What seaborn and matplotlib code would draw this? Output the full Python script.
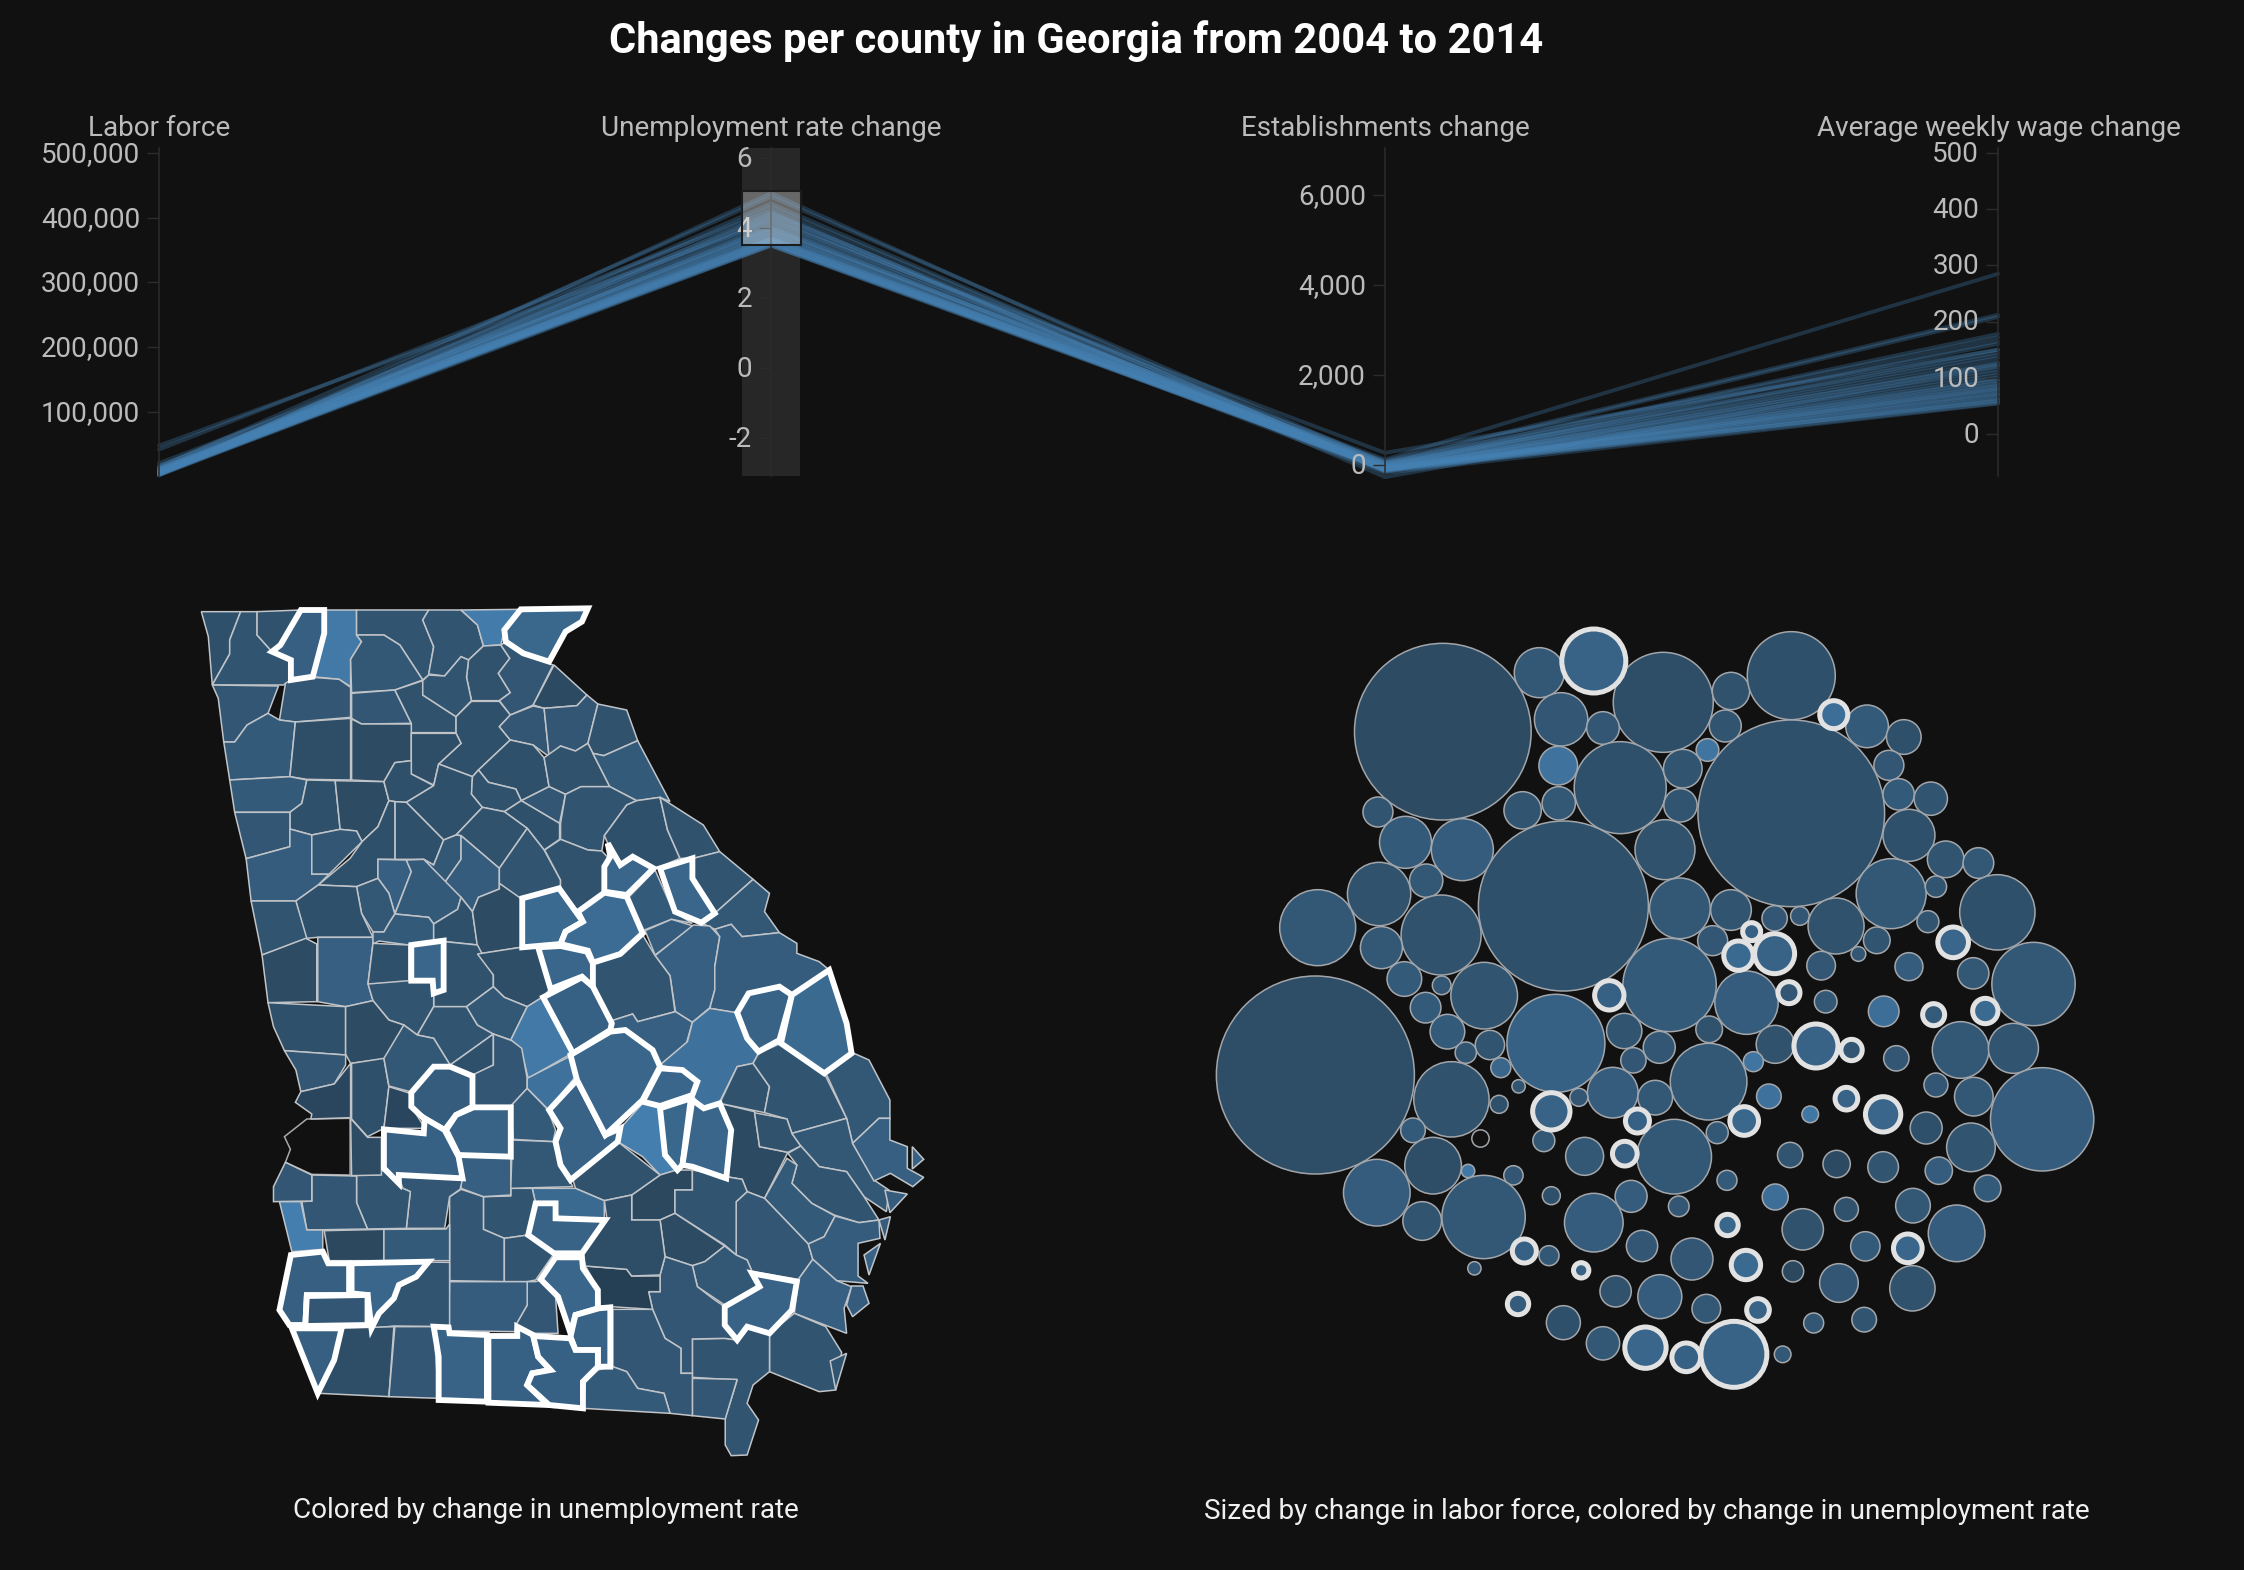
import numpy as np
import pandas as pd
import matplotlib.pyplot as plt
import matplotlib.transforms as mtransforms
import seaborn as sns

W, H = 2244, 1570
BG = '#111111'

# parallel coordinates: the counties picked by the brush on the rate axis
sel_labor = [48000, 42000, 21000, 17000, 16000, 14500, 13500, 13000, 12000, 11500,
             11000, 10500, 10000, 9500, 9000, 8800, 8500, 8000, 7600, 7200,
             7000, 6700, 6400, 6000, 5800, 5500, 5200, 5000, 4700, 4400,
             4200, 4000, 3700, 3400, 3100, 2900, 2500, 2000]
sel_rate = [4.2, 4.5, 3.9, 3.6, 4.4, 4.9, 3.7, 4.0, 3.5, 3.8,
            4.1, 3.7, 3.55, 4.3, 3.65, 3.95, 4.0, 4.25, 3.75, 3.55,
            4.6, 3.6, 4.15, 3.8, 3.5, 4.7, 3.7, 4.35, 3.55, 3.9,
            3.65, 4.05, 3.6, 4.45, 3.5, 3.85, 5.0, 3.7]
sel_estab = [270, -270, 120, 90, 60, 40, 55, -20, 30, -10,
             25, 10, -40, 0, -35, -30, -50, -60, -70, -45,
             -55, -80, -65, -90, -75, -85, -95, -110, -100, -60,
             -120, -130, -105, -140, -90, -150, -115, -175]
sel_wage = [150, 120, 285, 212, 208, 178, 172, 165, 160, 150,
            145, 140, 135, 128, 122, 115, 110, 105, 100, 96,
            90, 85, 80, 78, 75, 72, 68, 64, 60, 58,
            55, 95, 88, 70, 125, 62, 82, 54]

dim_names = ['Labor force', 'Unemployment rate change', 'Establishments change', 'Average weekly wage change']
dim_ranges = [(1160, 507700), (-3.09, 6.29), (-244, 7044), (-75, 509)]
dim_ticks = [[100000, 200000, 300000, 400000, 500000], [-2, 0, 2, 4, 6],
             [0, 2000, 4000, 6000], [0, 100, 200, 300, 400, 500]]
brush = (3.51, 5.06)

# bubbles, upper part
bub_n_x = [423, 591, 807, 925, 1030, 629, 702, 915, 1162, 1226,
           884, 624, 732, 841, 1030, 1200, 562, 625, 837, 1217,
           1273, 310, 358, 457, 633, 810, 1235, 1299, 1356, 312,
           394, 1204, 1282, 1389, 205, 420, 836, 925, 1001, 1045,
           1108, 1268, 316, 893, 1179, 1147, 1082, 1235, 1452, 1347,
           356, 421, 495, 818, 952, 1090, 1191, 393]
bub_n_y = [365, 188, 277, 243, 197, 328, 354, 348, 349, 381,
           420, 467, 533, 476, 610, 466, 601, 580, 586, 553,
           566, 606, 697, 719, 888, 719, 676, 748, 759, 852,
           812, 851, 830, 907, 953, 975, 895, 900, 925, 918,
           948, 935, 1013, 992, 991, 1032, 1067, 1070, 1122, 1090,
           1107, 1126, 1157, 1125, 1178, 1175, 1204, 1193]
bub_n_r = [265, 75, 150, 56, 132, 80, 49, 48, 64, 52,
           34, 58, 138, 58, 280, 45, 56, 50, 50, 47,
           50, 45, 78, 93, 255, 90, 78, 55, 46, 95,
           50, 105, 32, 113, 114, 120, 91, 61, 38, 28,
           84, 33, 63, 45, 40, 22, 43, 42, 125, 47,
           52, 28, 100, 140, 95, 34, 46, 46]
bub_n_rate = [2.5, 3.1, 2.6, 2.8, 2.7, 3.0, 3.0, 2.9, 3.2, 2.7,
              4.4, 4.3, 2.7, 2.9, 2.7, 3.0, 2.9, 3.1, 2.9, 3.2,
              2.9, 2.9, 3.2, 3.3, 2.7, 2.8, 2.7, 2.9, 3.1, 2.8,
              3.1, 3.1, 2.9, 2.7, 3.1, 2.8, 3.1, 2.9, 3.0, 3.0,
              2.8, 2.9, 3.1, 3.0, 2.9, 3.0, 3.0, 3.3, 3.1, 3.1,
              3.2, 3.0, 2.9, 3.2, 3.3, 3.1, 4.1, 3.2]
# ringed ones, upper part
ring_n_x = [686, 1104, 1312, 961, 938, 1001, 713, 1026, 1278, 1368]
ring_n_y = [153, 314, 997, 965, 1037, 1031, 1156, 1148, 1214, 1203]
ring_n_r = [96, 42, 46, 27, 44, 60, 44, 33, 33, 38]
ring_n_rate = [3.6, 4.1, 3.7, 3.5, 3.9, 3.6, 3.5, 3.0, 3.2, 3.9]

# bubbles, lower part
bub_s_x = [201, 431, 505, 463, 620, 739, 800, 887, 1002, 1213,
           1325, 1417, 524, 755, 964, 886, 438, 555, 719, 793,
           991, 1282, 1348, 1467, 521, 660, 1063, 1265, 1343, 371,
           599, 901, 826, 670, 1028, 1109, 1190, 1287, 406, 308,
           467, 546, 918, 1372, 612, 751, 1002, 1242, 834, 1126,
           387, 494, 686, 1318, 1050, 770, 1159, 608, 857, 478,
           1033, 1113, 1241, 724, 801, 882, 633, 1069, 1157, 702,
           1015]
bub_s_y = [225, 95, 135, 158, 130, 93, 142, 88, 133, 175,
           150, 145, 203, 181, 185, 245, 298, 259, 278, 293,
           289, 255, 290, 358, 313, 292, 343, 384, 442, 391,
           422, 398, 470, 469, 465, 492, 501, 512, 497, 578,
           513, 526, 541, 565, 587, 589, 591, 617, 619, 628,
           663, 651, 668, 700, 688, 738, 739, 767, 777, 805,
           814, 849, 865, 874, 890, 926, 968, 969, 959, 1030,
           1063]
bub_s_r = [297, 52, 44, 32, 147, 53, 48, 40, 57, 38,
           85, 75, 30, 38, 30, 115, 113, 20, 76, 52,
           37, 36, 58, 155, 27, 27, 25, 48, 73, 37,
           33, 33, 112, 57, 38, 41, 46, 41, 85, 100,
           20, 29, 30, 40, 27, 48, 39, 52, 31, 36,
           58, 125, 88, 85, 62, 47, 44, 30, 63, 20,
           32, 58, 68, 47, 66, 43, 51, 30, 37, 50,
           25]
bub_s_rate = [2.6, 3.2, 2.9, 2.9, 3.5, 2.9, 3.0, 2.8, 2.8, 3.0,
              3.1, 2.9, 3.7, 3.0, 4.4, 3.1, 2.8, 2.9, 3.3, 3.1,
              4.2, 3.0, 3.1, 3.3, 2.7, 3.0, 4.5, 2.7, 2.9, 3.2,
              3.1, 3.1, 3.1, 3.1, 2.9, 2.4, 2.9, 3.3, 2.6, 3.3,
              4.5, 3.0, 3.2, 3.2, 2.7, 3.3, 4.1, 3.1, 3.0, 2.8,
              2.9, 3.1, 3.3, 3.3, 2.8, 3.0, 3.2, 3.1, 3.0, 3.0,
              2.2, 3.0, 2.8, 2.8, 3.3, 3.1, 2.7, 3.0, 2.9, 3.1,
              3.1]
ring_s_x = [1073, 1135, 612, 762, 948, 1126, 1190, 740, 919, 1233,
            565, 951, 664, 972, 554, 776, 847, 930]
ring_s_y = [138, 150, 334, 363, 363, 296, 343, 461, 675, 745,
            753, 795, 811, 930, 912, 1043, 1072, 1063]
ring_s_r = [66, 32, 56, 36, 43, 34, 53, 37, 32, 43,
            36, 44, 23, 34, 32, 62, 43, 99]
ring_s_rate = [3.6, 3.0, 3.6, 3.5, 3.8, 3.6, 3.7, 3.4, 3.8, 3.7,
               3.5, 3.9, 3.6, 3.6, 3.3, 3.7, 3.5, 3.6]
# one county without a rate
empty_x = [487]
empty_y = [415]
empty_r = [26]

# county outlines, upper half of the state
map_n_plain = [
    [(63,65),(142,65),(120,150),(120,192),(85,285),(77,140)],
    [(142,65),(175,65),(175,135),(205,185),(243,210),(243,270),(228,285),(85,285),(120,192),(120,150)],
    [(175,65),(263,60),(222,165),(205,185),(175,135)],
    [(310,60),(375,60),(375,135),(385,155),(363,208),(363,290),(340,268),(287,260),(310,130)],
    [(375,60),(520,60),(508,90),(530,170),(520,255),(508,270),(462,165),(430,135),(375,135)],

    [(375,135),(430,135),(462,165),(508,270),(452,300),(365,308),(363,208),(385,155)],
    [(520,60),(585,60),(618,105),(630,168),(600,210),(585,200),(552,258),(520,252),(530,170),(508,90)],
    [(585,60),(705,58),(672,120),(665,165),(630,168),(618,105)],
    [(630,168),(665,165),(683,205),(660,250),(684,308),(662,332),(606,332),(596,262),(600,210)],
    [(665,165),(675,155),(710,190),(770,225),(730,345),(684,375),(662,332),(684,308),(660,250),(683,205)],

    [(772,225),(838,315),(818,347),(752,355),(730,345)],
    [(85,285),(218,288),(197,370),(155,405),(130,456),(108,456),(97,325)],
    [(232,280),(243,270),(287,262),(340,268),(363,292),(363,382),(252,396),(220,390)],
    [(365,310),(452,300),(485,400),(385,402),(365,385)],
    [(452,300),(508,272),(508,315),(575,380),(575,428),(485,428),(485,400)],

    [(520,255),(552,258),(585,200),(600,210),(596,262),(606,332),(575,380),(508,315),(508,272)],
    [(606,334),(662,334),(684,375),(662,410),(684,450),(620,540),(608,560),(540,522),(585,460),(575,430),(575,380)],
    [(684,375),(730,348),(752,355),(762,500),(730,465),(684,450),(662,410)],
    [(752,355),(818,347),(838,315),(860,342),(840,460),(815,483),(785,468),(762,500)],
    [(860,342),(918,360),(940,452),(872,497),(850,490),(840,460)],

    [(108,456),(130,456),(155,405),(197,370),(220,390),(252,396),(241,560),(120,570)],
    [(252,396),(363,385),(363,570),(275,568),(241,560)],
    [(365,387),(385,402),(485,402),(485,512),(452,518),(430,575),(365,570)],
    [(485,430),(575,430),(585,460),(540,522),(530,585),(485,552)],
    [(620,540),(684,450),(730,465),(752,503),(762,590),(706,632),(695,597),(640,577)],

    [(752,503),(785,468),(815,483),(840,460),(850,490),(884,590),(826,590),(795,613),(762,590)],
    [(850,490),(872,497),(940,452),(1005,635),(985,622),(938,632),(884,590)],
    [(120,570),(241,560),(275,570),(265,640),(241,667),(130,667)],
    [(275,570),(332,572),(342,718),(285,735),(241,717),(241,667),(265,640)],
    [(332,572),(430,575),(440,632),(418,710),(386,755),(375,723),(342,718)],

    [(430,575),(452,518),(485,512),(485,552),(530,587),(475,637),(452,635),(440,632)],
    [(540,522),(608,560),(606,612),(628,652),(575,735),(550,750),(475,637),(530,587)],
    [(620,540),(640,577),(695,597),(706,632),(672,665),(628,652),(606,612),(608,560)],
    [(762,590),(795,613),(783,700),(706,632)],
    [(795,613),(826,590),(884,590),(938,632),(918,645),(873,737),(868,783),(840,780),(785,748),(785,700)],

    [(938,632),(985,622),(1000,720),(1025,805),(985,830),(970,838),(930,800),(905,825),(880,760),(873,737),(918,645)],
    [(985,622),(1072,705),(1105,785),(1052,805),(1025,805),(1000,720)],
    [(706,632),(783,700),(783,748),(752,780),(718,715),(672,665)],
    [(628,652),(672,665),(718,715),(662,835),(585,737),(575,735)],
    [(130,667),(241,667),(241,770),(153,806)],

    [(452,635),(475,637),(550,750),(530,825),(510,808),(452,808)],
    [(153,806),(241,770),(241,717),(285,735),(285,852),(320,852),(298,885),(253,933),(163,933)],
    [(285,735),(342,718),(375,723),(386,755),(320,852),(285,852)],
    [(386,755),(418,710),(440,632),(452,635),(452,808),(418,808),(418,865),(375,890),(298,885),(362,805)],
    [(550,750),(575,735),(585,737),(585,808),(552,878),(510,808),(530,825)],

    [(585,737),(662,835),(662,897),(620,922),(608,965),(585,922),(552,878),(585,808)],
    [(718,715),(752,780),(785,870),(785,893),(705,925),(700,923),(662,880),(662,835)],
    [(753,780),(785,748),(840,780),(868,783),(885,810),(872,905),(820,965),(785,893),(785,870)],
    [(1052,805),(1105,785),(1172,868),(1095,970),(1050,865)],
    [(418,808),(475,810),(485,845),(452,972),(440,910),(418,865)],

    [(475,810),(510,808),(585,922),(578,958),(530,1002),(520,982),(452,972),(485,845)],
    [(375,890),(418,865),(440,910),(452,972),(440,1000),(430,1026),(408,1026),(385,970)],
    [(298,885),(375,890),(385,970),(408,1042),(297,1042),(273,1045),(253,933)],
    [(163,933),(253,933),(275,1045),(185,1095)],
    [(185,1095),(273,1045),(295,1062),(295,1235),(197,1238)],

    [(297,1042),(408,1042),(408,1060),(398,1180),(408,1232),(353,1250),(297,1235)],
    [(408,1026),(430,1026),(440,1000),(452,972),(520,982),(530,1002),(530,1060),(480,1065),(420,1053),(408,1062)],
    [(530,1002),(578,958),(585,922),(608,965),(618,1065),(555,1055),(530,1052)],
    [(608,965),(620,922),(662,897),(662,880),(705,925),(705,1072),(620,1092)],
    [(920,925),(975,840),(1012,965),(1050,1000),(1008,988),(950,1022)],

    [(1068,998),(1095,970),(1172,868),(1205,910),(1195,965),(1225,1028),(1150,1040),(1128,1003),(1095,1018)],
    [(955,1022),(1008,988),(1052,1008),(975,1095)],
    [(975,1097),(1052,1005),(1085,1008),(1105,1040),(1095,1130),(1095,1200),(1085,1253),(1050,1297),(1016,1265),(1005,1157)],
    [(1095,1018),(1128,1003),(1150,1040),(1225,1028),(1260,1060),(1260,1090),(1305,1115),(1325,1140),(1250,1215),(1225,1185),(1163,1210),(1138,1268),(1085,1255),(1095,1200),(1095,1130),(1105,1040)],
    [(408,1060),(480,1065),(480,1178),(398,1182)],

    [(552,1055),(618,1065),(650,1155),(650,1190),(596,1250),(530,1250),(530,1208),(552,1200)],
    [(618,1092),(705,1072),(740,1072),(765,1195),(750,1220),(718,1250),(672,1222),(650,1190),(650,1155)],
    [(850,1120),(905,1095),(950,1035),(975,1097),(1005,1157),(1015,1265),(940,1295),(930,1272),(888,1292),(850,1190)],
    [(398,1182),(480,1172),(530,1178),(530,1250),(497,1335),(470,1305),(440,1290),(408,1232)],
    [(530,1250),(596,1250),(618,1305),(650,1332),(563,1425),(530,1345),(497,1335)],

    [(596,1250),(650,1190),(672,1222),(718,1250),(685,1350),(650,1332),(618,1305)],
    [(718,1250),(748,1222),(808,1390),(720,1465),(705,1375),(685,1350)],
    [(888,1292),(930,1272),(940,1295),(1016,1265),(1050,1297),(1038,1360),(985,1425),(972,1380),(918,1320),(885,1320)],
    [(985,1425),(1040,1355),(1050,1297),(1085,1255),(1138,1268),(1160,1345),(1183,1390),(1172,1420),(1140,1430),(1105,1535),(1070,1555),(1050,1515),(1060,1475),(1030,1440)],
]
map_n_plain_rate = [2.7, 2.9, 2.8, 4.6, 2.9,
                    3.1, 2.9, 4.7, 2.8, 3.0,
                    2.4, 3.0, 3.0, 3.0, 2.8,
                    2.9, 2.7, 3.0, 3.0, 2.8,
                    3.2, 2.6, 2.5, 2.6, 2.7,
                    2.8, 3.2, 3.2, 2.7, 2.5,
                    2.7, 2.7, 2.8, 3.0, 2.9,
                    2.7, 2.8, 2.7, 2.8, 3.0,
                    2.7, 3.3, 3.0, 2.7, 3.1,
                    3.3, 2.9, 2.8, 2.9, 3.4,
                    3.2, 3.1, 2.7, 2.9, 2.5,
                    3.4, 3.2, 2.7, 2.5, 3.2,
                    3.1, 3.3, 3.4, 3.3, 2.7,
                    2.8, 2.6, 2.9, 2.9, 2.9,
                    3.1, 4.6, 3.4, 4.2]
map_n_sel = [
    [(263,60),(310,60),(310,130),(287,260),(243,270),(243,210),(205,185),(222,165)],
    [(705,58),(840,55),(828,95),(795,125),(762,215),(710,190),(675,155),(672,120)],
    [(880,760),(905,825),(930,800),(972,835),(918,915),(873,905),(873,830),(885,800)],
    [(985,835),(1050,805),(1050,865),(1095,970),(1068,998),(1015,965)],
    [(708,925),(782,895),(830,995),(795,1025),(785,1062),(708,1072)],
    [(785,1062),(795,1025),(830,995),(820,965),(873,908),(918,920),(950,1030),(905,1092),(850,1118),(840,1082)],
    [(485,1065),(550,1052),(550,1200),(530,1210),(528,1172),(485,1172)],
    [(740,1072),(785,1068),(838,1085),(850,1120),(850,1190),(828,1160),(765,1197)],
    [(750,1222),(828,1162),(850,1190),(888,1300),(885,1320),(810,1390)],
    [(1163,1210),(1225,1190),(1250,1215),(1225,1350),(1183,1385),(1160,1345),(1140,1268)],
    [(1250,1215),(1325,1140),(1360,1300),(1370,1390),(1315,1450),(1228,1360)],
]
map_n_sel_rate = [3.4, 3.8, 3.7, 3.7, 3.9, 4.0, 3.7, 3.7, 3.5, 3.6, 3.9]

# county outlines, lower half of the state
map_s_plain = [
    [(197,-52),(353,-40),(353,105),(230,92),(208,20)],
    [(353,-40),(408,-58),(440,0),(470,15),(440,115),(363,130),(353,103)],
    [(230,92),(353,105),(353,135),(330,192),(263,215),(253,150)],
    [(263,215),(330,192),(363,130),(363,293),(283,297),(285,282),(252,247)],
    [(365,130),(430,115),(440,200),(430,325),(397,350),(365,297)],

    [(470,15),(497,45),(530,55),(563,135),(530,140),(490,218),(440,198),(430,115)],
    [(650,42),(650,135),(610,165),(563,135)],
    [(650,42),(687,62),(707,85),(718,175),(718,205),(685,258),(608,258),(608,165),(650,135)],
    [(440,200),(487,222),(485,260),(513,325),(430,325)],
    [(685,258),(718,205),(760,270),(775,330),(770,365),(690,358)],

    [(718,175),(805,108),(815,170),(760,268),(718,205)],
    [(905,325),(950,250),(985,265),(995,405),(1020,450),(985,465),(950,410),(900,365)],
    [(1105,250),(1175,275),(1185,380),(1242,397),(1195,535),(1160,515),(1150,478),(1118,470),(1128,330)],
    [(1105,250),(1140,140),(1172,130),(1205,200),(1195,278)],
    [(1172,130),(1183,100),(1228,70),(1315,160),(1360,295),(1250,340),(1240,297),(1195,278),(1205,200)],

    [(1228,70),(1315,155),(1375,100),(1405,120),(1447,240),(1447,295),(1425,295),(1372,370),(1360,295),(1320,165)],
    [(1175,278),(1240,297),(1250,340),(1268,378),(1242,397),(1185,380)],
    [(1250,340),(1360,295),(1372,370),(1415,480),(1445,510),(1440,575),(1395,530),(1360,455),(1305,440),(1268,378)],
    [(1372,370),(1425,295),(1447,295),(1447,360),(1482,380),(1482,445),(1515,472),(1493,500),(1448,460),(1415,483)],
    [(1492,380),(1515,418),(1492,447)],

    [(1242,400),(1268,378),(1305,440),(1360,455),(1395,530),(1425,600),(1385,608),(1335,585),(1290,550),(1250,490),(1260,435)],
    [(1240,415),(1260,435),(1250,490),(1290,550),(1337,588),(1315,650),(1283,672),(1195,535)],
    [(1138,545),(1160,515),(1195,535),(1283,672),(1292,718),(1263,778),(1170,755),(1160,720),(1138,705)],
    [(1337,588),(1385,608),(1425,600),(1427,655),(1383,670),(1383,768),(1403,790),(1340,782),(1292,718),(1283,672),(1315,650)],
    [(1425,600),(1448,590),(1437,660)],

    [(1395,705),(1428,670),(1405,765)],
    [(1437,510),(1482,522),(1447,578)],
    [(1292,718),(1340,782),(1370,800),(1355,865),(1360,940),(1255,880),(1263,778)],
    [(1370,798),(1393,798),(1405,850),(1372,890),(1360,855)],
    [(1255,880),(1318,920),(1350,997),(1338,1110),(1305,1115),(1205,1055),(1205,940)],

    [(1327,1023),(1360,1000),(1338,1110)],
    [(1050,957),(1115,955),(1140,960),(1160,920),(1205,940),(1205,1055),(1172,1095),(1160,1150),(1183,1200),(1160,1305),(1128,1307),(1116,1275),(1116,1195),(1140,1080),(1050,1072)],
    [(1050,1075),(1140,1078),(1116,1197),(1050,1187)],
    [(1018,450),(1050,450),(1050,510),(1015,510),(1015,580),(985,600),(928,600),(928,525),(985,465)],
    [(810,480),(900,365),(985,465),(928,525),(873,542),(815,505)],

    [(1050,450),(1118,470),(1150,478),(1160,515),(1138,545),(1138,705),(1115,675),(1015,580),(1015,510),(1050,510)],
    [(985,600),(1015,580),(1115,678),(1075,725),(1050,737),(995,710)],
    [(1115,678),(1138,705),(1160,720),(1170,755),(1185,800),(1115,855),(1060,800),(1050,737),(1075,725)],
    [(995,710),(1050,737),(1060,800),(1095,840),(1115,860),(1115,915),(1140,960),(1115,955),(1050,957),(1050,1060),(1027,1060),(1027,985),(995,955),(970,868),(962,815),(985,815),(985,765)],
    [(890,868),(970,868),(995,955),(1027,985),(1027,1060),(1050,1060),(1050,1187),(1005,1180),(993,1120),(940,1105),(918,1055),(890,1040)],

    [(835,1085),(860,1050),(890,1040),(918,1055),(940,1105),(993,1120),(1005,1180),(830,1165)],
    [(835,738),(918,748),(928,768),(985,768),(985,815),(962,815),(970,868),(865,858),(862,810)],
    [(873,542),(928,525),(928,600),(985,600),(995,710),(985,765),(928,768),(918,748),(835,738),(830,700),(878,595)],
    [(728,505),(815,505),(873,542),(873,595),(780,590),(775,548),(735,550)],
    [(630,530),(685,528),(685,505),(728,505),(735,550),(720,645),(672,655),(630,628)],

    [(562,530),(585,508),(630,530),(630,628),(672,655),(672,785),(562,782)],
    [(672,655),(720,645),(770,705),(735,780),(718,785),(672,785)],
    [(735,785),(745,780),(775,830),(780,940),(728,940),(695,915),(718,855),(718,785)],
    [(562,785),(718,785),(718,855),(695,915),(693,935),(560,932)],
    [(585,410),(685,415),(685,525),(630,530),(585,505)],

    [(688,360),(770,365),(785,435),(810,500),(685,505)],
    [(460,470),(588,478),(583,508),(562,530),(552,625),(475,625),(483,515),(468,505)],
    [(375,465),(420,465),(430,445),(468,505),(483,515),(475,625),(397,627),(375,548)],
    [(285,465),(375,468),(375,548),(397,627),(275,630),(265,545),(285,543)],
    [(363,295),(397,352),(425,352),(425,465),(365,467)],

    [(232,427),(285,465),(285,543),(208,545),(208,500)],
    [(220,545),(263,545),(275,630),(307,630),(307,688),(245,695)],
    [(310,632),(430,628),(430,722),(320,722)],
    [(430,628),(555,627),(562,612),(562,722),(430,722)],
    [(430,725),(562,727),(562,920),(450,918),(405,925),(420,880),(450,835),(460,795),(495,770),(520,727)],

    [(345,925),(450,920),(440,1130),(300,1120),(330,1020)],
    [(452,920),(530,920),(540,1135),(440,1130)],
]
map_s_plain_rate = [2.7, 2.5, 3.0, 2.1, 2.7,
                    3.1, 2.7, 3.0, 2.1, 3.2,
                    4.2, 4.8, 2.4, 2.8, 2.9,
                    3.1, 2.8, 3.1, 3.4, 3.5,
                    2.9, 3.2, 3.0, 3.3, 3.3,
                    3.6, 3.3, 3.4, 3.3, 2.9,
                    2.9, 2.9, 3.0, 2.2, 2.8,
                    2.9, 2.5, 3.1, 3.0, 3.0,
                    3.2, 1.4, 2.6, 3.9, 2.9,
                    3.0, 2.9, 3.0, 3.3, 3.4,
                    3.1, 3.0, 2.9, 3.0, 2.5,
                    3.0, 4.8, 2.2, 3.2, 2.9,
                    2.6, 3.0]
map_s_sel = [
    [(530,140),(563,140),(608,168),(608,260),(575,285),(552,330),(510,295),(485,260),(485,218)],
    [(430,328),(510,340),(512,295),(552,330),(580,410),(588,475),(460,465),(460,490),(430,445)],
    [(610,262),(685,262),(685,410),(580,405),(555,330),(575,285)],
    [(818,180),(875,345),(905,325),(900,365),(805,480),(785,435),(775,365),(785,325),(762,270)],
    [(805,105),(885,35),(915,30),(970,90),(985,140),(950,240),(875,345),(818,180)],

    [(985,265),(1047,235),(1030,435),(1020,450),(995,405)],
    [(1050,240),(1073,265),(1105,250),(1128,330),(1118,475),(1050,440),(1030,435)],
    [(985,145),(1030,150),(1060,185),(1050,225),(985,258),(950,245)],
    [(1170,760),(1260,785),(1250,870),(1205,940),(1160,920),(1140,960),(1115,915),(1115,860),(1185,800)],
    [(735,550),(775,550),(775,595),(875,600),(828,700),(772,700),(720,645)],

    [(775,712),(828,712),(830,745),(860,810),(860,865),(815,885),(805,940),(780,830),(745,778)],
    [(815,885),(862,865),(885,862),(885,1040),(860,1040),(860,990),(815,990),(805,950)],
    [(243,705),(307,695),(318,730),(360,730),(360,825),(275,825),(272,915),(240,915),(220,870)],
    [(365,730),(520,725),(495,770),(460,795),(450,835),(420,880),(405,925),(397,825),(365,820)],
    [(275,828),(397,825),(397,915),(272,918)],

    [(245,925),(345,925),(330,1020),(297,1120)],
    [(530,920),(560,922),(562,940),(637,945),(637,1145),(540,1140),(540,1010)],
    [(640,948),(698,948),(698,920),(730,945),(740,1010),(765,1050),(728,1060),(718,1095),(760,1155),(640,1148)],
    [(730,948),(805,955),(815,990),(860,990),(860,1040),(830,1085),(830,1165),(762,1155),(718,1095),(728,1060),(765,1050),(740,1010)],
]
map_s_sel_rate = [3.3, 3.5, 3.6, 3.6, 3.7,
                  3.8, 3.7, 3.7, 3.6, 3.6,
                  3.7, 3.6, 3.4, 3.7, 3.0,
                  3.4, 3.6, 3.5, 3.5]
map_hole = [(275,297),(362,295),(362,465),(285,463),(232,427),(242,388),(230,350)]

sns.set_theme(style='dark', rc={'figure.facecolor': BG, 'axes.facecolor': 'none', 'savefig.facecolor': BG})
plt.rcParams['font.family'] = ['Roboto', 'DejaVu Sans']

rate_cmap = sns.blend_palette(['#1b2f42', '#2d4b63', '#4682b4'], as_cmap=True)

fig = plt.figure(figsize=(W / 100, H / 100), dpi=100)

# whole figure in pixels, for the map and the bubbles
ax = fig.add_axes([0, 0, 1, 1], zorder=0)
ax.set_xlim(0, W)
ax.set_ylim(H, 0)
ax.axis('off')


def draw_counties(shapes, rates, top, edge, lw):
    for shape, rate in zip(shapes, rates):
        pts = np.array(shape, dtype=float)
        ax.fill(170 + pts[:, 0] / 2.01, top + pts[:, 1] / 3, facecolor=rate_cmap(rate / 5),
                edgecolor=edge, linewidth=lw, joinstyle='miter')


hole = np.array(map_hole, dtype=float)
ax.fill(170 + hole[:, 0] / 2.01, 1020 + hole[:, 1] / 3, facecolor=BG, edgecolor='#aaaaaa', linewidth=1.1)
draw_counties(map_n_plain, map_n_plain_rate, 590, '#c0c4c8', 1.1)
draw_counties(map_s_plain, map_s_plain_rate, 1020, '#c0c4c8', 1.1)
draw_counties(map_n_sel, map_n_sel_rate, 590, 'white', 4.2)
draw_counties(map_s_sel, map_s_sel_rate, 1020, 'white', 4.2)


def draw_bubbles(xs, ys, rs, rates, top, edge, lw):
    rs = np.array(rs) / 3 * 0.72
    sns.scatterplot(x=1200 + np.array(xs) / 1.742, y=top + np.array(ys) / 3, hue=rates, palette=rate_cmap,
                    hue_norm=(0, 5), s=(2 * rs) ** 2, edgecolor=edge, linewidth=lw, legend=False, ax=ax)


draw_bubbles(bub_n_x, bub_n_y, bub_n_r, bub_n_rate, 610, '#a2a6aa', 1.1)
draw_bubbles(bub_s_x, bub_s_y, bub_s_r, bub_s_rate, 1000, '#a2a6aa', 1.1)
draw_bubbles(ring_n_x, ring_n_y, ring_n_r, ring_n_rate, 610, '#e2e2e2', 3.6)
draw_bubbles(ring_s_x, ring_s_y, ring_s_r, ring_s_rate, 1000, '#e2e2e2', 3.6)
sns.scatterplot(x=1200 + np.array(empty_x) / 1.742, y=1000 + np.array(empty_y) / 3, color=BG,
                s=(2 * np.array(empty_r) / 3 * 0.72) ** 2, edgecolor='#a2a6aa', linewidth=1.1, ax=ax)
ax.set_xlim(0, W)
ax.set_ylim(H, 0)

ax.text(1076, 41, 'Changes per county in Georgia from 2004 to 2014', color='white', fontsize=30,
        fontweight='bold', ha='center', va='center')
ax.text(546, 1511, 'Colored by change in unemployment rate', color='#f0f0f0', fontsize=20.1, ha='center', va='center')
ax.text(1647, 1511, 'Sized by change in labor force, colored by change in unemployment rate', color='#f0f0f0',
        fontsize=20.1, ha='center', va='center')

# parallel coordinates
axis_left, axis_right = 159, 1998
axis_top, axis_bottom = 148, 476
dim_x = [159, 771, 1385, 1998]

ax_lines = fig.add_axes([axis_left / W, 1 - axis_bottom / H, (axis_right - axis_left) / W,
                         (axis_bottom - axis_top) / H], zorder=1)
columns = [sel_labor, sel_rate, sel_estab, sel_wage]
rows = []
for j, (values, (lo, hi)) in enumerate(zip(columns, dim_ranges)):
    rows.append(pd.DataFrame({'county': range(len(values)), 'dim': (dim_x[j] - dim_x[0]) / (dim_x[3] - dim_x[0]),
                              'scaled': (np.array(values) - lo) / (hi - lo)}))
long_df = pd.concat(rows, ignore_index=True)

band = 29 / (dim_x[3] - dim_x[0])
centre = (dim_x[1] - dim_x[0]) / (dim_x[3] - dim_x[0])
ax_lines.axvspan(centre - band, centre + band, color='#272727', lw=0, zorder=0)
sns.lineplot(data=long_df, x='dim', y='scaled', units='county', estimator=None, color='#4682b4', alpha=0.3,
             linewidth=2.8, ax=ax_lines, zorder=2, clip_on=False)
ax_lines.set_xlim(0, 1)
ax_lines.set_ylim(0, 1)
ax_lines.axis('off')

nudge = mtransforms.ScaledTranslation(0, 1.2 / 72, fig.dpi_scale_trans)
for j, name in enumerate(dim_names):
    dim_ax = fig.add_axes([dim_x[j] / W, 1 - axis_bottom / H, 1 / W, (axis_bottom - axis_top) / H], zorder=2)
    dim_ax.set_ylim(*dim_ranges[j])
    dim_ax.set_xticks([])
    dim_ax.set_yticks(dim_ticks[j])
    dim_ax.set_yticklabels([f'{t:,}' for t in dim_ticks[j]])
    dim_ax.tick_params(axis='y', left=True, length=8.6, width=1, color='#2c2c2c', labelcolor='#bbbbbb',
                       labelsize=20, pad=5)
    for label in dim_ax.get_yticklabels():
        label.set_transform(label.get_transform() + nudge)
    sns.despine(ax=dim_ax, top=True, right=True, bottom=True)
    dim_ax.spines['left'].set_color('#2c2c2c')
    dim_ax.spines['left'].set_linewidth(1.1)
    dim_ax.set_title(name, color='#bbbbbb', fontsize=20.1, pad=9)
    if j == 1:
        # brush on the rate axis
        dim_ax.axhspan(brush[0], brush[1], xmin=-29, xmax=30, facecolor=(1, 1, 1, 0.3), edgecolor='#1c1c1c',
                       linewidth=1.5, clip_on=False, zorder=5)

fig.savefig('out.png', dpi=100)
